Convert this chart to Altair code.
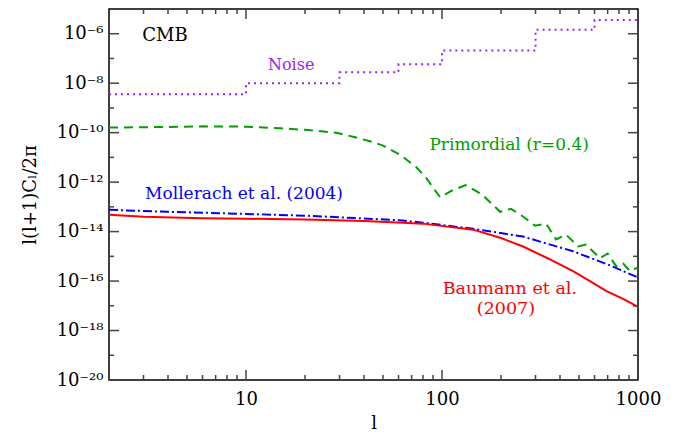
import math
import altair as alt
import pandas as pd

# ---------------- data ----------------
l_noise = [2, 10, 30, 60, 100, 300, 600, 1000]
v_noise = [3.6e-9, 1.0e-8, 2.75e-8, 5.8e-8, 2.1e-7, 1.45e-6, 3.6e-6, 3.6e-6]

l_prim = [2, 4, 6, 10, 15, 20, 29, 36, 43, 50, 61, 74, 83, 90, 98, 112, 132, 160,
          198, 225, 260, 298, 340, 382, 429, 495, 543, 640, 700, 773, 839, 911, 1000]
v_prim = [1.6e-10, 1.7e-10, 1.8e-10, 1.75e-10, 1.5e-10, 1.3e-10, 1.0e-10, 6.5e-11,
          4.5e-11, 3.0e-11, 1.3e-11, 4.0e-12, 1.5e-12, 6.0e-13, 2.4e-13, 4.5e-13,
          7.6e-13, 3.2e-13, 6.3e-14, 8.3e-14, 4.0e-14, 1.74e-14, 2.1e-14, 4.8e-15,
          7.6e-15, 2.5e-15, 3.0e-15, 8.3e-16, 1.3e-15, 4.0e-16, 5.2e-16, 2.5e-16, 3.6e-16]

l_moll = [2, 4, 6, 10, 20, 40, 63, 80, 144, 259, 466, 700, 1000]
v_moll = [7.6e-14, 6.3e-14, 5.8e-14, 5.2e-14, 4.4e-14, 3.4e-14, 2.8e-14, 2.3e-14,
          1.3e-14, 6.3e-15, 1.6e-15, 4.7e-16, 1.4e-16]

l_baum = [2, 3, 6, 10, 20, 40, 63, 80, 144, 200, 259, 350, 466, 580, 687, 839, 1000]
v_baum = [4.8e-14, 4.0e-14, 3.5e-14, 3.3e-14, 3.1e-14, 2.7e-14, 2.3e-14, 2.1e-14,
          1.2e-14, 5.5e-15, 2.5e-15, 8.0e-16, 2.5e-16, 9.0e-17, 4.0e-17, 1.9e-17, 9.0e-18]

x_major = [10, 100, 1000]
x_major_ticks = [10, 100]
x_minor_ticks = [3, 4, 5, 6, 7, 8, 9, 20, 30, 40, 50, 60, 70, 80, 90,
                 200, 300, 400, 500, 600, 700, 800, 900]
y_major = [1e-20, 1e-18, 1e-16, 1e-14, 1e-12, 1e-10, 1e-8, 1e-6]
y_labels = ["10⁻²⁰", "10⁻¹⁸", "10⁻¹⁶", "10⁻¹⁴", "10⁻¹²", "10⁻¹⁰", "10⁻⁸", "10⁻⁶"]
y_minor = [1e-19, 1e-17, 1e-15, 1e-13, 1e-11, 1e-9, 1e-7]

ann_text = ["CMB", "Noise", "Primordial (r=0.4)", "Mollerach et al. (2004)",
            "Baumann et al.", "(2007)"]
ann_l = [3.86, 17.0, 220, 9.77, 222, 212]
ann_v = [10 ** -6.08, 10 ** -7.28, 10 ** -10.5, 10 ** -12.48, 10 ** -16.32, 10 ** -17.12]
ann_color = ["#000000", "#a020f0", "#00a000", "#0000ff", "#ff0000", "#ff0000"]
ann_size = [18, 16, 17, 17, 17.5, 17.5]

# ---------------- chart ----------------
W, H = 529, 371
FONT = "DejaVu Serif"
TICKC = "#444444"
xs = alt.Scale(type="log", domain=[2, 1000], nice=False)
ys = alt.Scale(type="log", domain=[1e-20, 1e-5], nice=False)


def line(ls, vs, color, dash=None, interp="linear"):
    df = pd.DataFrame({"l": ls, "v": vs})
    kw = dict(color=color, strokeWidth=2, interpolate=interp, clip=True)
    if dash is not None:
        kw["strokeDash"] = dash
    return alt.Chart(df).mark_line(**kw).encode(
        x=alt.X("l:Q", scale=xs, axis=None),
        y=alt.Y("v:Q", scale=ys, axis=None),
    )


noise = line(l_noise, v_noise, "#a020f0", [2, 4], "step-after")
prim = line(l_prim, v_prim, "#00a000", [9, 6])
moll = line(l_moll, v_moll, "#0000ff", [9, 3, 2, 3])
baum = line(l_baum, v_baum, "#ff0000")

ann_df = pd.DataFrame({"t": ann_text, "l": ann_l, "v": ann_v,
                       "c": ann_color, "s": ann_size})
ann = alt.Chart(ann_df).mark_text(font=FONT, baseline="middle", align="center").encode(
    x=alt.X("l:Q", scale=xs, axis=None),
    y=alt.Y("v:Q", scale=ys, axis=None),
    text="t:N",
    color=alt.Color("c:N", scale=None),
    size=alt.Size("s:Q", scale=None),
)


# inward tick marks on all four edges, positioned through the scales
def yticks(values, length, right=False):
    df = pd.DataFrame({"v": values})
    x0, x1 = (W - length, W) if right else (0, length)
    return alt.Chart(df).mark_rule(color=TICKC, strokeWidth=1.5).encode(
        y=alt.Y("v:Q", scale=ys, axis=None),
        x=alt.value(x0), x2=alt.value(x1))


def xticks(values, length, top=False):
    df = pd.DataFrame({"l": values})
    y0, y1 = (0, length) if top else (H - length, H)
    return alt.Chart(df).mark_rule(color=TICKC, strokeWidth=1.5).encode(
        x=alt.X("l:Q", scale=xs, axis=None),
        y=alt.value(y0), y2=alt.value(y1))


tick_layers = [
    yticks(y_major, 10), yticks(y_minor, 5),
    yticks(y_major, 10, True), yticks(y_minor, 5, True),
    xticks(x_major_ticks, 10), xticks(x_minor_ticks, 5),
    xticks(x_major_ticks, 10, True), xticks(x_minor_ticks, 5, True),
]

dummy = pd.DataFrame({"l": [10], "v": [1e-10]})

label_expr = "''"
for v, lab in zip(y_major, y_labels):
    label_expr = (f"abs(log(datum.value)/LN10 - ({math.log10(v):.3f})) < 0.05 ? "
                  f"'{lab}' : ({label_expr})")

x_lab = alt.Chart(dummy).mark_point(opacity=0).encode(
    x=alt.X("l:Q", scale=xs,
            axis=alt.Axis(orient="bottom", values=x_major, format="d", ticks=False,
                          domain=False, grid=False, labelFont=FONT, labelFontSize=18,
                          labelPadding=10, labelFlush=False, labelOverlap=False,
                          labelColor="black",
                          title="l", titleFont=FONT, titleFontSize=18,
                          titleFontWeight="normal", titlePadding=6,
                          titleColor="black")))
y_lab = alt.Chart(dummy).mark_point(opacity=0).encode(
    y=alt.Y("v:Q", scale=ys,
            axis=alt.Axis(orient="left", values=y_major, labelExpr=label_expr,
                          ticks=False, domain=False, grid=False, labelFont=FONT,
                          labelFontSize=18, labelPadding=6, labelOverlap=False,
                          labelColor="black",
                          title="l(l+1)Cₗ/2π", titleFont=FONT, titleFontSize=18,
                          titleFontWeight="normal", titlePadding=17,
                          titleColor="black")))

chart = alt.layer(noise, prim, moll, baum, ann, *tick_layers, x_lab, y_lab).resolve_axis(
    x="independent", y="independent"
).properties(
    width=W, height=H,
    padding={"left": 13, "top": 0, "right": 0, "bottom": 0},
).configure_view(stroke="black", strokeWidth=1.5)

chart.save("out.html", embed_options={"renderer": "svg", "actions": False})
